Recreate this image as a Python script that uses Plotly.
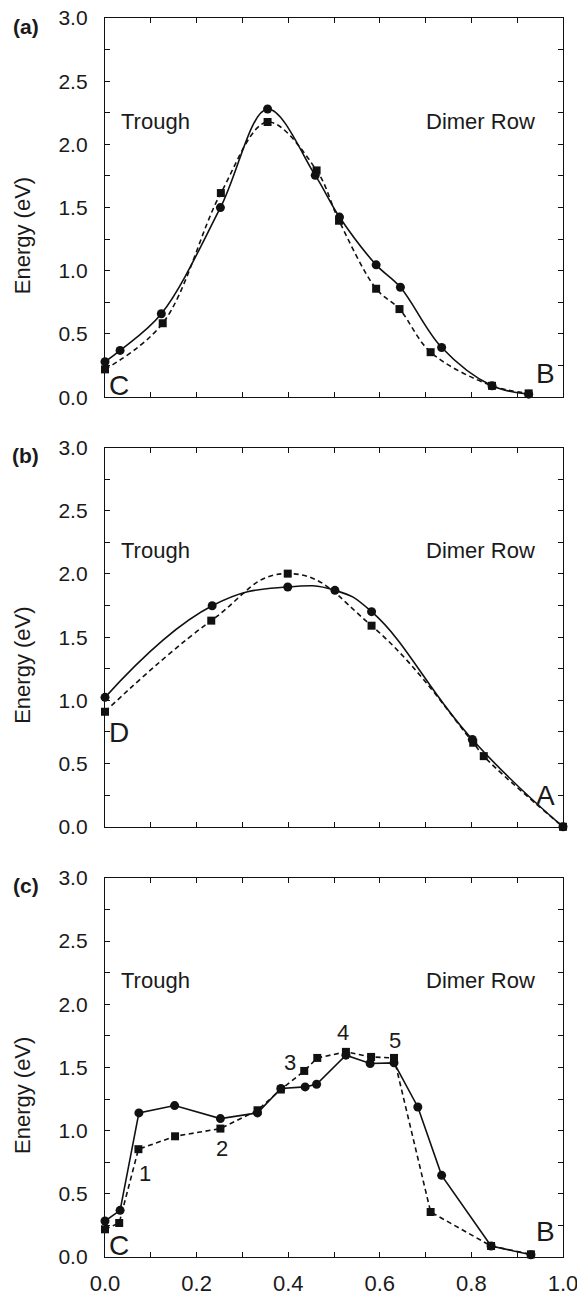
import plotly.graph_objects as go

# ---------------- data ----------------
# panel (a)
a_circ_x = [0.0, 0.033, 0.123, 0.252, 0.355, 0.459, 0.512, 0.592, 0.645, 0.735, 0.845, 0.925]
a_circ_y = [0.28, 0.37, 0.66, 1.50, 2.28, 1.755, 1.425, 1.047, 0.87, 0.393, 0.09, 0.024]
a_sq_x = [0.0, 0.126, 0.253, 0.355, 0.462, 0.511, 0.592, 0.643, 0.711, 0.845, 0.925]
a_sq_y = [0.22, 0.585, 1.615, 2.177, 1.794, 1.396, 0.858, 0.697, 0.356, 0.09, 0.03]

# panel (b)
b_circ_x = [0.0, 0.234, 0.399, 0.502, 0.582, 0.802, 1.0]
b_circ_y = [1.024, 1.749, 1.897, 1.871, 1.702, 0.691, 0.0]
b_sq_x = [0.0, 0.232, 0.399, 0.582, 0.804, 0.827, 1.0]
b_sq_y = [0.91, 1.631, 2.003, 1.591, 0.665, 0.559, 0.0]

# panel (c)
c_circ_x = [0.0, 0.033, 0.074, 0.152, 0.252, 0.333, 0.384, 0.437, 0.462, 0.526, 0.579, 0.631, 0.683, 0.735, 0.843, 0.930]
c_circ_y = [0.285, 0.369, 1.140, 1.198, 1.095, 1.140, 1.333, 1.346, 1.367, 1.597, 1.531, 1.536, 1.187, 0.646, 0.087, 0.018]
c_sq_x = [0.0, 0.031, 0.073, 0.153, 0.252, 0.333, 0.384, 0.435, 0.4635, 0.526, 0.581, 0.631, 0.711, 0.843, 0.930]
c_sq_y = [0.219, 0.269, 0.853, 0.955, 1.016, 1.161, 1.325, 1.472, 1.575, 1.623, 1.583, 1.575, 0.356, 0.087, 0.021]

# step labels in panel (c)
c_num_text = ["1", "2", "3", "4", "5"]
c_num_x = [0.088, 0.256, 0.405, 0.520, 0.633]
c_num_y = [0.66, 0.86, 1.537, 1.775, 1.715]

panel_labels = ["(a)", "(b)", "(c)"]
left_site = ["C", "D", "C"]
right_site = ["B", "A", "B"]
left_site_y = [0.091, 0.746, 0.091]
right_site_y = [0.19, 0.245, 0.20]

x_tickvals = [round(0.1 * i, 1) for i in range(11)]
x_ticktext = ["0.0", "", "0.2", "", "0.4", "", "0.6", "", "0.8", "", "1.0"]
y_tickvals = [0.25 * i for i in range(13)]
y_ticktext = ["0.0", "", "0.5", "", "1.0", "", "1.5", "", "2.0", "", "2.5", "", "3.0"]

# ---------------- layout geometry ----------------
# page coordinates of the reference; the html body adds an 8px margin
OFF = 8
PAGE_W, PAGE_H = 585, 1295
W, H = PAGE_W - OFF, PAGE_H - OFF
plot_left, plot_right = 105.3, 562.7       # page px
plot_top, plot_bottom = 18.3, 1256.7       # page px
L = plot_left - OFF
T = plot_top - OFF
R = PAGE_W - plot_right
B = PAGE_H - plot_bottom
PW, PH = W - L - R, H - T - B
panel_tops = [18.3, 447.7, 877.7]          # page px
panel_h = 379.0

def px_x(px):
    return (px - OFF - L) / PW

def px_y(py):
    return (H - B - (py - OFF)) / PH

FONT = "Liberation Sans, Arial, sans-serif"
TXT = "#1a1a1a"
LINE = "#111111"

fig = go.Figure()

panels = [
    (a_circ_x, a_circ_y, a_sq_x, a_sq_y, "spline", 1.0),
    (b_circ_x, b_circ_y, b_sq_x, b_sq_y, "spline", 1.3),
    (c_circ_x, c_circ_y, c_sq_x, c_sq_y, "linear", 1.0),
]

annotations = []
for i, (cx, cy, sx, sy, shape, smooth) in enumerate(panels):
    n = "" if i == 0 else str(i + 1)
    xa, ya = "x" + n, "y" + n
    sq = go.Scatter(x=sx, y=sy, xaxis=xa, yaxis=ya, mode="lines+markers",
                    line=dict(color=LINE, width=1.6, dash="5px,3.5px", shape=shape,
                              smoothing=smooth),
                    marker=dict(symbol="square", size=8, color=LINE),
                    showlegend=False, hoverinfo="skip", cliponaxis=False)
    ci = go.Scatter(x=cx, y=cy, xaxis=xa, yaxis=ya, mode="lines+markers",
                    line=dict(color=LINE, width=1.6, shape=shape, smoothing=smooth),
                    marker=dict(symbol="circle", size=9, color=LINE),
                    showlegend=False, hoverinfo="skip", cliponaxis=False)
    if i == 1:
        fig.add_trace(ci)
        fig.add_trace(sq)
    else:
        fig.add_trace(sq)
        fig.add_trace(ci)

    top = panel_tops[i]
    dom = [px_y(top + panel_h), px_y(top)]
    fig.update_layout(**{
        "xaxis" + n: dict(domain=[0, 1], anchor=ya, range=[0, 1],
                          tickmode="array", tickvals=x_tickvals,
                          ticktext=x_ticktext if i == 2 else [""] * len(x_tickvals),
                          ticks="inside", ticklen=5, tickwidth=1, tickcolor=LINE,
                          showline=True, linecolor=LINE, linewidth=1.3, mirror="ticks",
                          showgrid=False, zeroline=False, ticklabelstandoff=6,
                          ticklabeloverflow="allow",
                          tickfont=dict(family=FONT, size=22, color=TXT)),
        "yaxis" + n: dict(domain=dom, anchor=xa, range=[0, 3],
                          tickmode="array", tickvals=y_tickvals, ticktext=y_ticktext,
                          ticks="inside", ticklen=5, tickwidth=1, tickcolor=LINE,
                          showline=True, linecolor=LINE, linewidth=1.3, mirror="ticks",
                          showgrid=False, zeroline=False, ticklabelstandoff=12,
                          ticklabeloverflow="allow",
                          tickfont=dict(family=FONT, size=21, color=TXT)),
    })

    # panel letter
    annotations.append(dict(text="<b>" + panel_labels[i] + "</b>", xref="paper", yref="paper",
                            x=px_x(26), y=px_y(top + 8), xanchor="center", yanchor="middle",
                            showarrow=False, font=dict(family=FONT, size=21, color=TXT)))
    # y-axis title
    annotations.append(dict(text="Energy (eV)", xref="paper", yref="paper", textangle=-90,
                            x=px_x(23), y=px_y(top + panel_h / 2 + 28),
                            xanchor="center", yanchor="middle", showarrow=False,
                            font=dict(family=FONT, size=22, color=TXT)))
    # Trough / Dimer Row
    annotations.append(dict(text="Trough", xref=xa, yref=ya, x=0.030, y=2.185,
                            xanchor="left", yanchor="middle", showarrow=False,
                            font=dict(family=FONT, size=22, color=TXT)))
    annotations.append(dict(text="Dimer Row", xref=xa, yref=ya, x=0.943, y=2.185,
                            xanchor="right", yanchor="middle", showarrow=False,
                            font=dict(family=FONT, size=22, color=TXT)))
    # site letters
    annotations.append(dict(text=left_site[i], xref=xa, yref=ya, x=0.031, y=left_site_y[i],
                            xanchor="center", yanchor="middle", showarrow=False,
                            font=dict(family=FONT, size=28, color=TXT)))
    annotations.append(dict(text=right_site[i], xref=xa, yref=ya, x=0.961, y=right_site_y[i],
                            xanchor="center", yanchor="middle", showarrow=False,
                            font=dict(family=FONT, size=28, color=TXT)))

for t, x, y in zip(c_num_text, c_num_x, c_num_y):
    annotations.append(dict(text=t, xref="x3", yref="y3", x=x, y=y,
                            xanchor="center", yanchor="middle", showarrow=False,
                            font=dict(family=FONT, size=22, color=TXT)))

fig.update_layout(width=W, height=H, margin=dict(l=L, r=R, t=T, b=B, autoexpand=False),
                  paper_bgcolor="white", plot_bgcolor="white",
                  annotations=annotations, font=dict(family=FONT, color=TXT))

fig.write_html("out.html")
